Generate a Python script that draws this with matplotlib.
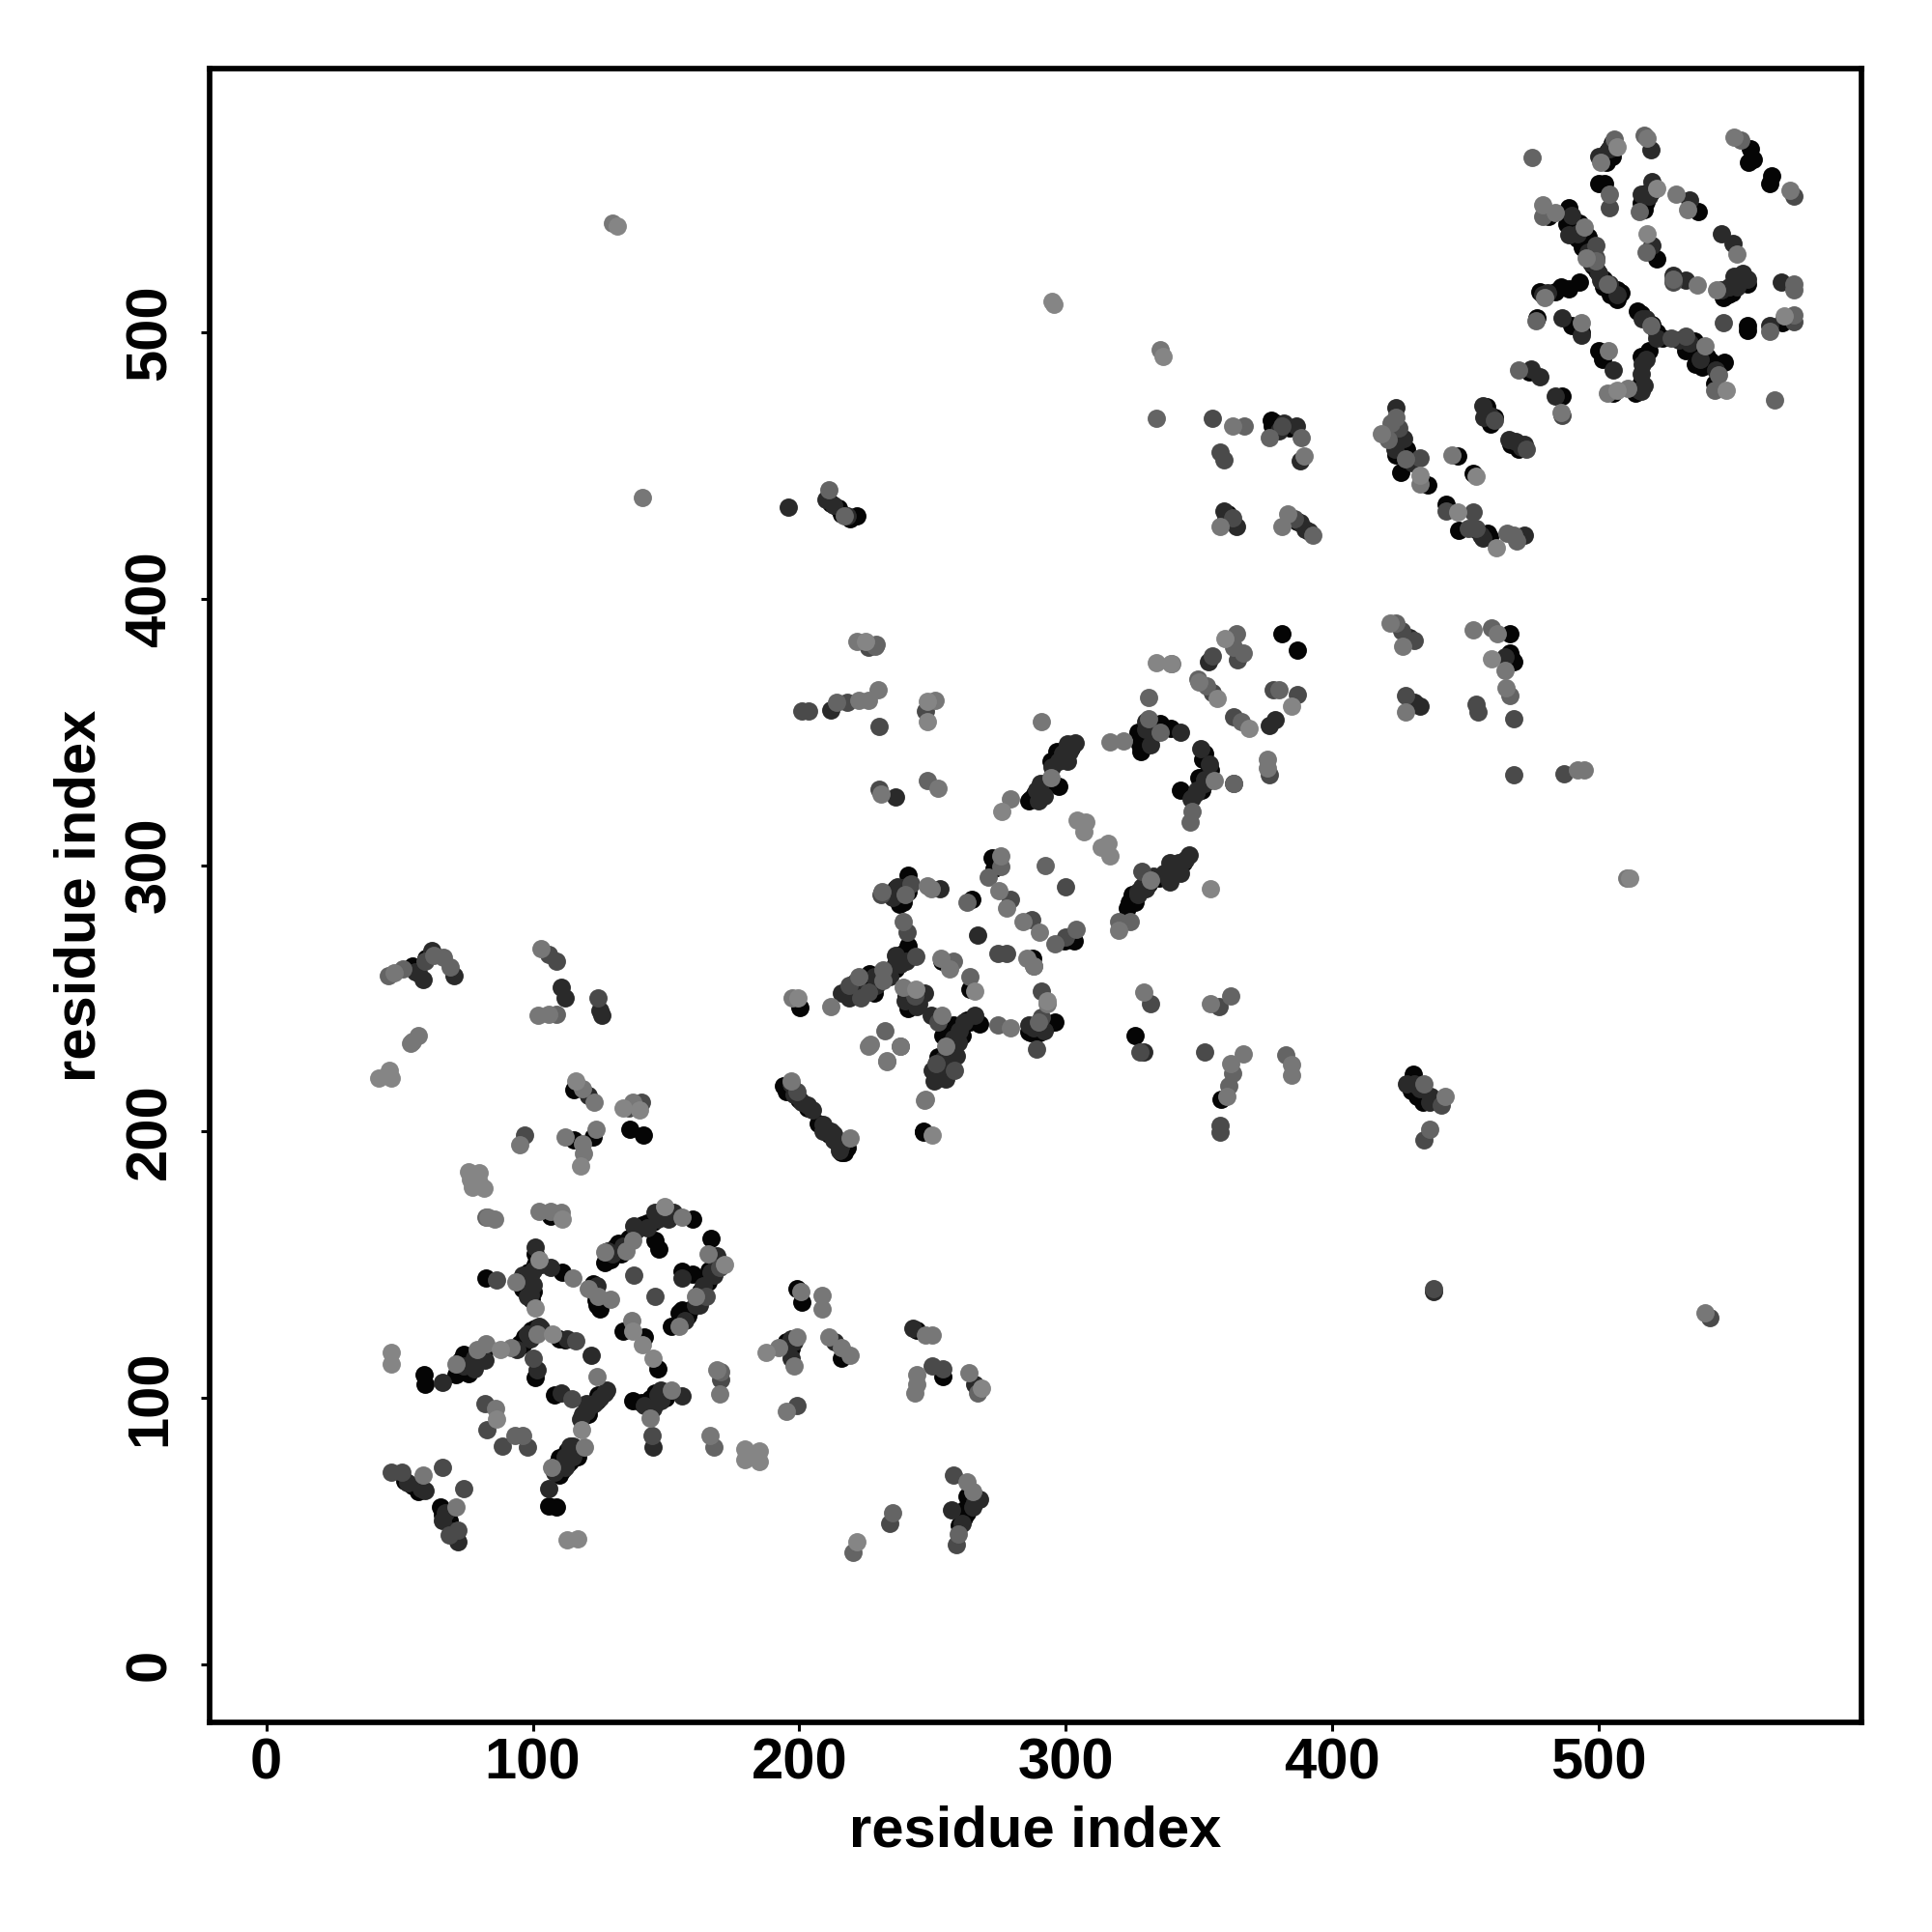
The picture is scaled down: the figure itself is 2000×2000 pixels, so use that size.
import matplotlib
matplotlib.use('Agg')
import matplotlib.pyplot as plt

# contacts, one list per grey level, (residue i, residue j)
black = [(115.5,215.6),(136.5,200.7),(141.4,198.8),(115.5,196.8),(122.8,198),(106.6,168.3),(127,150.9),(131,156.7),(143,165.8),(160,167),(146,159.3),(147.4,155.8),(167,160),(165.7,143.7),(160,146.3),(156,147.6),(158,131),(155,132),(152,127),
(111,147),(98.5,147),(82.3,145),(97.7,141),(99.3,137),(122.8,143),(125,133.4),(123.6,136.6),(99.3,125.6),(97,123),(95,120.4),(112,121.7),(82,118),(77.5,112.7),(75.8,110),(74,116.5),(71,108.8),(59.3,108.8),(59.6,105),(101,107.5),(124.4,101),(121,96),(108,101),(134,125),(142,123),(147,111),(144,99.7),(140.6,98.4),(137.4,99),
(117,78),(110,77.7),(113,75),(110,71),(106,59.6),(109,59),(54.8,67),(57,64.7),(65.3,59),(68.5,54),(199,141),(201,136),(197,118.5),(216,115),(244,125.6),(254,108),(263,57),(260,52),(194,217),(217,192.3),(246.6,200),
(381,387),(387,380.8),(296.6,342.8),(294.5,339),(297.3,329.6),(288.3,326.7),(286,324),(327,350),(328.3,342.8),(335.5,353.2),(339.6,351.3),(351.4,339.6),(354.2,335.7),(343,328),(325,289),(323.7,285.9),(272.3,302.7),(273,298.8),(241,296.2),(236.2,287.8),(237.6,285.2),(241,269.7),(238.3,266.4),(236.2,263),(226.5,259.3),(242.5,249),(200.2,246.4),(253.6,263.8),(264,253.5),(287.6,265),(264.7,287),(299.4,271.6),(303.3,271.6),(246.6,199.7),(267.5,240.5),(264,241),(260.5,237.3),(256.4,238.6),(255,224.4),(286.2,237.3),(296,241),(289,236.7),(326.2,236),(358.4,212),
(503.2,567.9),(505,566),(502.2,555.8),(500,555.8),(557,569),(558.2,564.9),(556.4,563.7),(564.8,558.8),(564.2,555.8),(518,552.2),(515.9,548.6),(518,549),(537.6,545.5),(481.4,543.7),(488.7,546.7),(488,540.7),(492,535.3),(496,535.9),(499.5,523.2),(506.8,515.9),(508.6,514.7),(504.4,514),(506.8,512.5),(492.9,519),(488.7,516.5),(483.8,515.3),(477.8,515.3),(476.8,505.5),(489.9,502.6),(493.5,500),(500.1,493),(501.4,490),(521.9,527.4),(551.5,519.5),(548.5,514),(556,502.6),(556,500.8),(569,503.8),(514.7,508),(521.9,500),(535.8,496.6),(540.6,491),(536.4,488),(532.8,493),(547.3,488.7),(543.7,480.8),(518.9,493),(505.6,477),(474,485),(486.2,476),(457.8,470),(459.6,465.7),(468.7,457.9),(425.2,459),(426.4,455.5),(425.8,447.6),(447,453.6),(453,447),(436,442.8),(442.7,435.5),(447.5,425.8),(458.4,424.6),
(377.4,465),(214.7,434),(221.7,431),(466.7,386.7),(466.7,379.7),(468,376.5),(430.6,221.6),(429.7,215.5),(432,213)]

dark = [(121,213.7),(138,164.5),(146,169.6),(147,167),(152.7,169.6),(169,153.5),(168,146),(156,145),(162.5,134.7),(130,154),(101,156.7),(106.6,149),(97,145),(100,142.5),(102.5,127),(82,114),(66,106),(101.7,110.7),(122,115.9),(127.6,103),(118.7,94),(110.6,101.7),(147,101),(156,100.7),(145,81.6),(114,82),(106,66),(59.6,65.4),(72,46),(197,122),(197,115),(213.4,121),(242.6,126),(266,105),(267.7,62),(257,58),(203,210),(209,202.7),(212,200),(216,195),
(303.6,346),(300.8,345.4),(301.5,342.8),(300.8,339),(297.3,339),(290.4,330.5),(289.7,324),(330,354),(343,350),(350.8,343.7),(352,330.5),(349.4,328),(347.3,325.4),(346.3,304),(342.4,300.8),(339,300.8),(343,296.9),(339,293.6),(330,296),(328.5,291.7),(327,290),(353.5,376.5),(378.5,354.5),(376.4,352.6),(234,260.6),(221.7,253.5),(218.9,250.3),(252.9,291),(239.7,248.9),(267,273.6),(249.4,243.8),(266,243.8),(259.8,233.4),(259,228.3),(250.8,219),(255,219.8),(329.2,229.8),(236,325.7),(212,358.4),
(519.5,568.5),(520,556.4),(534,549.8),(488.7,536.5),(500.8,519.5),(479,514),(486.2,505.6),(493.5,499),(505.6,485.7),(520,532.8),(528,521.4),(532.8,519.5),(546,537),(550.3,533.4),(555.8,520),(549,517),(546,515.9),(568.5,518.9),(564.2,502.6),(516.5,505),(516.5,488),(515.9,484.5),(515.3,478.4),(515.9,477.8),(474.8,486.3),(477.8,483.3),(483.8,476),(456.6,472.4),(460,468),(466.3,459.7),(471,457),(424,471.8),(423.6,456),(456.6,422.8),(472.3,424),
(359.4,433),(364,427),(386.7,465),(388,451.6),(388,428.5),(391.3,425.4),(196,434.3),(210,437.4),(429,385.3),(431,361),(433,359.8),(431,218),(436.6,211),(438,140),(57,259.5),(58.7,257),(62,268),(70.3,258.6),(110.5,254),(112,250),(125.3,245.6),(125.8,243.8)]

# extra contacts that pile up along the dense strands
strand_black = [(72,110),(76,113),(80,116),(76,109),(73,114),(97,121),(100,125),(96,120),(101,126),(97,143),(96,141),(100,140),(99,146),(101,150),(101,154),(119,93),(122,97),(124,99),(126,101),(121,94),(146,102),(144,98),(146,98),(150,100),(111,73),(114,76),(116,79),(113,80),(109,75),(132,158),(136,160),(141,165),(145,166),(149,168),(129,152),(133,154),(166,148),(168,149),(165,145),(163,140),(159,133),(156,133),(123,140),(124,135),(110,122),(52,69),(56,67),(66,56),(69,52),(71,48),(264,60),(262,55),(263,63),(262,58),(195,121),
(196,216),(200,212),(203,209),(195,215),(207,203),(211,199),(214,196),(216,192),(218,194),(226,256),(224,254),(222,251),(232,258),(236,261),(239,267),(241,266),(228,252),(240,251),(243,250),(241,246),(236,291),(238,290),(239,286),(241,290),(258,240),(261,236),(263,242),(257,232),(256,226),(252,220),(254,236),(252,228),(287,237),(290,237),(291,241),(293,240),(325,288),(326,286),(331,293),(335,295),(340,299),(344,301),(323,284),(287,325),(291,329),(293,331),(297,341),(302,344),(329,348),(331,352),(328,345),(350,333),(353,334),(351,328),(352,342),
(490,541),(494,532),(498,525),(502,520),(505,516),(502,517),(493,541),(486,517),(516,507),(520,503),(524,498),(537,493),(542,489),(539,487),(516,491),(516,481),(514,477),(503,564),(505,571),(517,546),(520,553),(550,515),(553,520),(547,513),(556,518),(458,472),(461,468),(467,458),(470,456),(428,456),(424,454),(454,426),(459,423),(379,466),(384,464),(377,467),(212,436),(216,432),(219,430),(361,432),(387,429),(430,219),(435,212),(434,211),(467,378),(55,262),(60,265)]

strand_dark = [(74,112),(78,115),(78,111),(98,124),(99,122),(94,118),(103,126),(98,144),(99,139),(98,138),(100,148),(96,146),(103,150),(120,95),(123,98),(125,100),(127,102),(118,92),(120,98),(148,103),(142,97),(148,99),(145,96),(112,74),(115,78),(112,78),(115,82),(108,72),(134,157),(139,163),(143,164),(147,168),(151,167),(128,155),(167,147),(169,150),(164,142),(161,135),(157,129),(124,142),(113,122),(53,68),(58,66),(67,57),(70,50),(66,54),(265,59),(261,53),(266,61),(196,120),(198,121),
(198,214),(201,211),(205,208),(197,218),(209,200),(213,197),(215,193),(213,199),(228,258),(229,255),(221,256),(234,258),(238,263),(240,264),(236,266),(216,252),(242,251),(245,248),(244,247),(247,252),(237,292),(235,288),(240,292),(260,238),(262,241),(258,235),(255,228),(253,221),(254,227),(250,223),(288,239),(292,238),(286,240),(327,289),(330,291),(333,296),(337,297),(341,298),(345,302),(289,328),(292,326),(295,337),(299,342),(330,351),(332,345),(333,349),(352,332),(349,327),(354,338),(347,325),
(492,537),(496,530),(500,522),(504,518),(507,514),(497,526),(490,544),(481,515),(518,505),(522,498),(534,496),(538,490),(544,486),(530,497),(518,490),(517,480),(504,569),(500,566),(519,551),(516,552),(552,517),(554,522),(551,521),(459,469),(457,468),(469,459),(472,458),(430,451),(427,460),(456,424),(382,466),(380,463),(213,435),(218,431),(360,430),(390,426),(433,216),(437,213),(428,218),(465,378),(56,260)]

dim = [(97,198.8),(136,209),(140.6,211),(138,146),(146,138),(165,138),(170,149),(86.4,144.4),(100,115),(114.7,99.7),(116,121.4),(144.6,86),(46.7,72),(50.7,72),(66,73.8),(74,66),(72,50.5),(68.5,48.6),(82,98),(82.6,88),(88.5,82),(98,81.6),(199,97),(170.5,107),(250,112),(254,111),(258,71),(259,45),(234,53),(199,215),
(200.8,357.7),(203.6,357.7),(218,361),(225.8,381.7),(230,352),(247.3,358),(230,328.6),(354.9,378.5),(364.6,377),(354.9,364.9),(363.2,355.8),(377.8,366),(386.8,364),(376.4,333.8),(363.2,330.8),(328.5,297.5),(300,292),(241.8,293),(230.7,289),(240.4,275),(243.9,265.8),(218.9,254.8),(225.8,252.2),(223,250.3),(243.5,251),(274.4,267),(277.9,266.8),(291,252.8),(279.3,287.2),(287.2,279.4),(300,272.9),(252.2,241),(251.5,225.6),(258.4,223),(291,243),(289,230.8),(327.8,230),(332,248),(352,230),(358,202.3),(358,199.7),(357.7,247),
(504.1,546.7),(573.3,551),(499,532.8),(499,528),(528,519),(547,503.8),(573.3,504),(527.3,497.8),(532.8,498.4),(486.2,469),(460.8,467),(473,456),(425,464),(433,453),(442.7,433),(453,432.7),(451,426.4),(454,426.4),
(355,467.6),(358,455),(359.5,452),(381,465),(362.6,430.5),(385.8,430),(426,388),(431,384.4),(427.4,363.5),(468,355),(454,360.3),(454.9,357.5),(468,334),(487,334.4),(434.3,197),(441,210),(438,141),(541.6,130),(59.7,264),(106,266.4),(109,264),(124.4,250)]

mid = [(82.3,168),(170.5,110),(168,81.6),(259.6,49),(220,42),(96,86),(93.3,86),(235,57),(267,102),
(214,361),(228.6,382),(229,383),(248,331.8),(331,363),(364,386.9),(366.7,379.7),(352.8,367.4),(366,353.8),(380,366),(349.5,370),(363.2,381.7),(331.3,355),(335.5,350),(347.3,320),(346.6,316.3),(363.2,330.8),(320,278.7),(324.4,278.7),(292.4,300),(275.8,299.5),(271,295.6),(231,290),(239.7,289),(239,278.7),(231.4,260.6),(222.4,258),(231.4,256.7),(257.8,263.8),(264,258),(288,262),(263,286),(296,270.3),(303.8,276),(232,238),(238,232),(274.4,240),(289.7,241),(361.9,250.9),(362.5,221.8),(361.2,217),(382.7,228.9),
(475,565.7),(506,572.7),(479,543.7),(499,527),(553.3,572),(517,574),(515.3,545.5),(504,552),(503.2,518.3),(476.6,504.4),(518,530),(528,520),(544.9,483.9),(573.3,518.3),(573.3,516),(564.2,500.5),(573.3,506.5),(519.5,502.6),(543.7,478.4),(470,485.7),(566,474.8),(421,459.7),(427.6,452.4),(465.7,424.6),(468,424),(469.3,421.6),(424,468),(422,466),
(367,465),(388.5,460.6),(376.5,460.6),(392.7,424),(211,441),(217,431),(424,391),(459.8,389),(466.7,363.5),(434.3,218),(436.6,200.7),(45.8,258.6),(51.3,261),(62.9,266),(66.6,265.5),(69,261.8),(109,244),(334,467.6)]

grey = [(55,234),(57,236),(54,233),(118.7,216),(123,211),(137.4,211),(95,195),(112,197.9),(123.6,200.7),(118.7,195.5),(119,191.7),(85.5,167),(83,167.7),(102.5,170),(106.6,170),(110.6,169.6),(127,154.8),(135,155),(137.4,159),(156,167.7),(165.7,154),(161,138),(155,127),(115,145),(93.6,143.7),(121,141),(124.4,138),(129.3,137),(101.7,124),(92,119),(82.3,120.4),(79,118),(71,112.7),(124,108),(137,129),(152,103),(144,92.6),(119.5,81.6),(59,71),(71,59),(86,96),(107,74),
(199,123),(200.5,140),(208.6,138.6),(208.6,133.4),(192.4,119),(198,112),(211,123),(216,119),(219,116),(169,110.7),(170,101.6),(195,95),(166.5,86),(247.4,123.7),(250,123.7),(244,108.8),(244,105),(243.4,101.7),(263.6,109.4),(263,68.6),(265,65),(233,226.6),(226,232),(238,232),(247,211.7),(197,219),(219,197.5),
(221.7,384),(222.4,362),(225.8,362),(229.7,366),(251,362),(230.7,326.7),(252,328.9),(291,353.8),(294.5,333),(279.3,324.7),(316.7,346.3),(321.6,346.7),(340,375.7),(350,368.7),(375.7,339.6),(375.7,336.4),(355.6,331.8),(332,294.3),(320,275.5),(275.8,303.3),(248,292.3),(249.4,291),(239,254),(197.4,250.2),(212,247),(253,265),(256.4,261),(285.5,265),(293,248),(275.1,290.4),(277.9,283.9),(284,278.7),(290,274.9),(226.8,232.8),(232.8,226.3),(253.6,243.8),(255,232),(279.3,238.9),(329.2,252.2),(354.2,248),(366.7,229.3),(361.9,225.6),(360.5,213.3),(384.8,225),(384.8,221),(247.3,212),(288,262),
(500.7,563.7),(550.9,573.3),(518.3,573),(572,553.4),(529,552),(533.4,546),(479,548),(483.8,545),(494.7,539.5),(495.3,528),(479.6,512.9),(493.5,503.8),(503.8,493),(552,529.2),(537,517.7),(544.3,515.9),(540,494.8),(511,479),(503.2,477),(486,470),(418.5,462),(445,454),(433,443),(465,373),
(130,541),(335.3,493.5),(362.6,465),(383.4,432),(381,427),(358,427),(389.4,453.7),(421.8,391),(426.5,382),(427.4,357.5),(452.8,388.4),(462,386.7),(465.3,366.7),(442.6,213),(492,335.8),(494.6,335.8),(510.7,295),(540,132),(48,259.5),(103,268.7),(102,243.8),(106,244),(141,438)]

pale = [(46,223),(42,220),(47,220),(116,219),(134,209),(140,208),(118,187),(75.8,185),(80,184.5),(77.5,179),(81.5,178.7),(76.6,182),(80,181),(111,167),(149.5,172),(172,150),(102.5,152),(101,133.8),(88,118),(107.4,124),(118.4,88),(137.4,125),(141,120),(145,115),(113,46.6),(117,47),(46.7,117),(46.7,112.7),(86.4,92),(187.5,117),(179.5,81),(185,80),(179.5,77),(185,76),(182.7,78),(268.5,103.6),(221.5,46),
(225,384),(248,361.6),(248,353.8),(276,320),(334,375.9),(339.6,375.5),(359.8,385),(357,362.7),(368.8,351.3),(384.8,359.7),(304.3,317),(307.7,316),(307,312.4),(313.3,306.6),(316,308),(316.7,303.6),(354.2,291),(243.9,253.5),(199.4,250.2),(266,252.8),(293,249),(250,198.8),
(506.8,569.7),(521.9,554),(518.3,537),(547.9,478.4),(506.8,478.4),(569.7,506.2),(454,445.8),(433,446.4),(447,432.5),(461.5,419.2),(131.8,540),(295,511.6),(295.5,510.5),(336.4,491),(459.8,377.5),(511.8,295)]

x_ticks = [0, 100, 200, 300, 400, 500]
y_ticks = [0, 100, 200, 300, 400, 500]
axis_label = "residue index"

plt.rcParams['font.family'] = ['Liberation Sans', 'DejaVu Sans']

fig = plt.figure(figsize=(20, 20), dpi=100)
ax = fig.add_axes([217/2000, 1-1783/2000, (1927-217)/2000, (1783-71)/2000])

# darkest first, paler dots sit on top
levels = [(black + strand_black, '#050505'), (dark + strand_dark, '#2a2a2a'), (dim, '#4a4a4a'),
          (mid, '#646464'), (grey, '#777777'), (pale, '#858585')]
for pts, col in levels:
    ax.scatter([p[0] for p in pts], [p[1] for p in pts], s=185, c=col,
               linewidths=0, zorder=3)

ax.set_xlim(-21.3, 598.7)
ax.set_ylim(-21.8, 599)
ax.set_xticks(x_ticks)
ax.set_yticks(y_ticks)
ax.tick_params(axis='both', length=6.3, width=2.2, labelsize=43)
ax.tick_params(axis='x', pad=5)
ax.tick_params(axis='y', pad=18)
for lab in ax.get_xticklabels() + ax.get_yticklabels():
    lab.set_fontweight('bold')
for lab in ax.get_yticklabels():
    lab.set_rotation(90)
    lab.set_va('center')
for sp in ax.spines.values():
    sp.set_linewidth(4.1)

ax.set_xlabel(axis_label, fontsize=43, fontweight='bold')
ax.set_ylabel(axis_label, fontsize=43, fontweight='bold')
ax.xaxis.set_label_coords(0.5, -0.050)
ax.yaxis.set_label_coords(-0.0623, 0.5)

plt.savefig("out.png", dpi=100)
